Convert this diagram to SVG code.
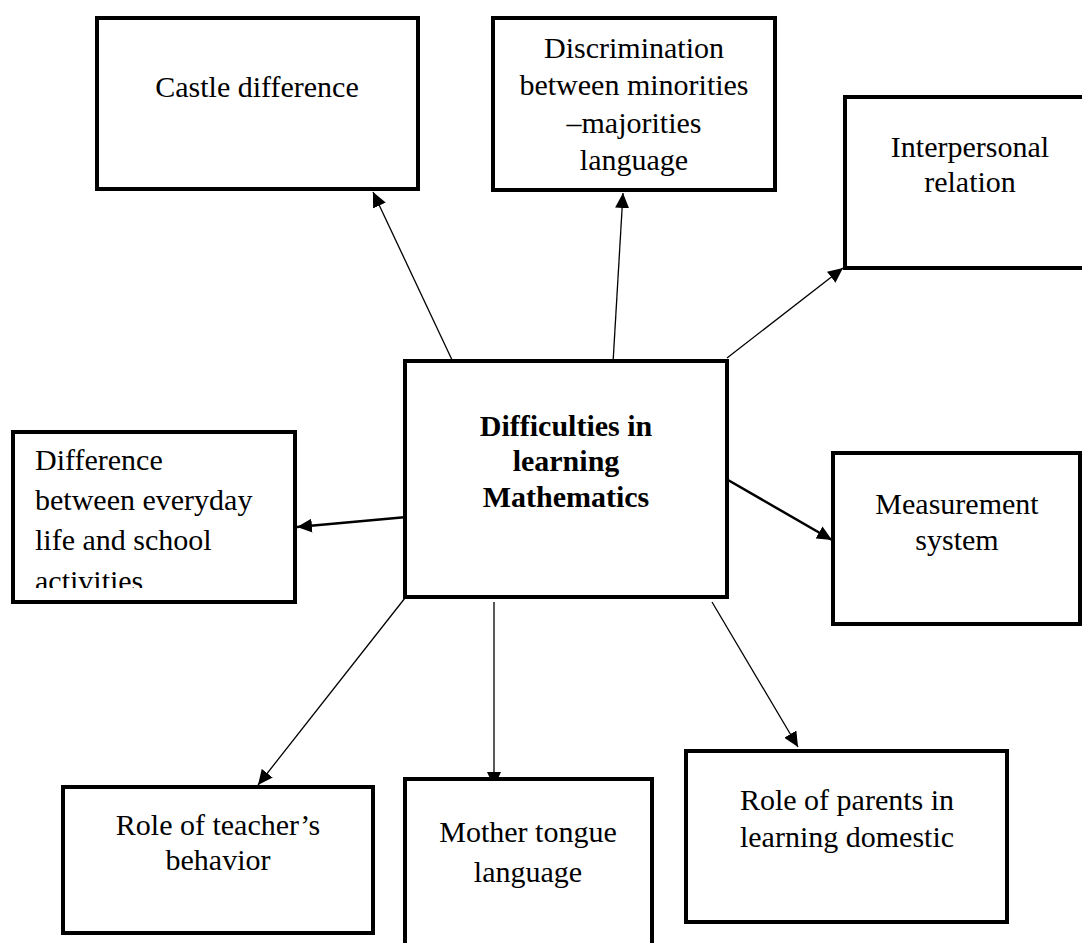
<svg xmlns="http://www.w3.org/2000/svg" width="1082" height="943" viewBox="0 0 1082 943">
<style>
.box{fill:#fff;stroke:#000;stroke-width:4}
.t{font-family:"Liberation Serif","Times New Roman",serif;font-size:30px;fill:#000;text-anchor:middle}
.tl{font-family:"Liberation Serif","Times New Roman",serif;font-size:30px;fill:#000}
.b{font-weight:bold}
.c{fill:none;stroke:#000;stroke-width:1.3}
.ck{fill:none;stroke:#000;stroke-width:2.5}
</style>
<defs>
<marker id="ah" markerUnits="userSpaceOnUse" markerWidth="16" markerHeight="14" refX="15" refY="7" orient="auto">
<path d="M0,0 L15,7 L0,14 Z" fill="#000"/>
</marker>
<clipPath id="clipDiff"><rect x="13" y="432" width="282" height="156"/></clipPath>
</defs>
<rect width="1082" height="943" fill="#fff"/>
<g id="connectors">
<line class="c" x1="453" y1="362" x2="373" y2="192" marker-end="url(#ah)"/>
<line class="c" x1="613" y1="363" x2="623" y2="193" marker-end="url(#ah)"/>
<line class="c" x1="727" y1="358" x2="843" y2="268" marker-end="url(#ah)"/>
<line class="ck" x1="407" y1="517" x2="297" y2="527" marker-end="url(#ah)"/>
<line class="ck" x1="728" y1="480" x2="832" y2="540" marker-end="url(#ah)"/>
<line class="c" x1="405" y1="598" x2="258" y2="785" marker-end="url(#ah)"/>
<line class="c" x1="494" y1="602" x2="494" y2="787" marker-end="url(#ah)"/>
<line class="c" x1="712" y1="602" x2="798" y2="747" marker-end="url(#ah)"/>
</g>
<g id="castle">
<rect class="box" x="97" y="18" width="321" height="171"/>
<text class="t" x="257" y="97">Castle difference</text>
</g>
<g id="discrimination">
<rect class="box" x="493" y="18" width="282" height="172"/>
<text class="t" x="634" y="58">Discrimination</text>
<text class="t" x="634" y="95">between minorities</text>
<text class="t" x="634" y="133">–majorities</text>
<text class="t" x="634" y="170">language</text>
</g>
<g id="interpersonal">
<rect class="box" x="845" y="97" width="242" height="171"/>
<text class="t" x="970" y="157">Interpersonal</text>
<text class="t" x="970" y="192">relation</text>
</g>
<g id="difference">
<rect class="box" x="13" y="432" width="282" height="170"/>
<g clip-path="url(#clipDiff)">
<text class="tl" x="35" y="470">Difference</text>
<text class="tl" x="35" y="510">between everyday</text>
<text class="tl" x="35" y="550">life and school</text>
<text class="tl" x="35" y="591">activities</text>
</g>
</g>
<g id="central">
<rect class="box" x="405" y="361" width="322" height="236"/>
<text class="t b" x="566" y="436">Difficulties in</text>
<text class="t b" x="566" y="471">learning</text>
<text class="t b" x="566" y="507">Mathematics</text>
</g>
<g id="measurement">
<rect class="box" x="833" y="453" width="247" height="171"/>
<text class="t" x="957" y="514">Measurement</text>
<text class="t" x="957" y="550">system</text>
</g>
<g id="teacher">
<rect class="box" x="63" y="787" width="310" height="146"/>
<text class="t" x="218" y="835">Role of teacher’s</text>
<text class="t" x="218" y="870">behavior</text>
</g>
<g id="mother">
<rect class="box" x="405" y="779" width="247" height="200"/>
<text class="t" x="528" y="842">Mother tongue</text>
<text class="t" x="528" y="882">language</text>
</g>
<g id="parents">
<rect class="box" x="686" y="751" width="321" height="171"/>
<text class="t" x="847" y="810">Role of parents in</text>
<text class="t" x="847" y="847">learning domestic</text>
</g>
</svg>
